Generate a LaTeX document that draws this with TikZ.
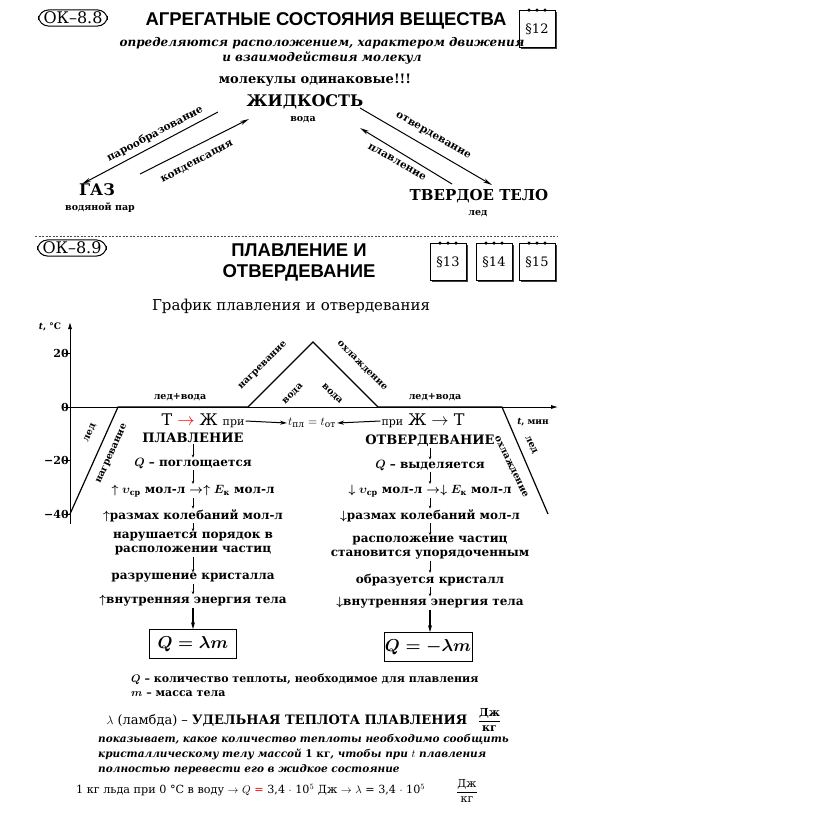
\documentclass[tikz,border=0pt]{standalone}
\usepackage{amsmath}
\usepackage{fontspec}
\setmainfont{DejaVu Serif}
\setsansfont{Liberation Sans}
\usetikzlibrary{arrows.meta,positioning,shadows}

\begin{document}
\begin{tikzpicture}[x=1pt, y=-1pt, every node/.style={inner sep=1pt},
    okbox/.style={draw, line width=1pt, rounded corners=10pt, inner xsep=5pt,
                  inner ysep=2pt, font=\fontsize{16}{18}\selectfont},
    pgbox/.style={draw, line width=0.8pt, fill=white, minimum width=36pt,
                  minimum height=37pt, font=\fontsize{13}{15}\selectfont,
                  drop shadow={shadow xshift=1.5pt, shadow yshift=-1.5pt,
                  fill=black!75, opacity=1}},
    ttl/.style={font=\sffamily\bfseries\fontsize{18.5}{21}\selectfont, align=center},
    state/.style={font=\bfseries\fontsize{16}{18}\selectfont},
    lbl/.style={font=\bfseries\fontsize{9.5}{11}\selectfont},
    tlbl/.style={font=\bfseries\fontsize{10.5}{12}\selectfont},
    col/.style={font=\bfseries\boldmath\fontsize{12}{14}\selectfont, align=center},
    tarr/.style={line width=1pt, -{Stealth[length=9pt,width=4pt]}},
    sarr/.style={line width=0.4pt, -{Stealth[length=3pt,width=2.5pt]}},
    barr/.style={line width=1.1pt, -{Stealth[length=7pt,width=4pt]}},
    harr/.style={line width=1pt, -{Stealth[length=7pt,width=4pt]}},
    fbox/.style={draw, line width=0.8pt, minimum width=87pt, minimum height=29pt,
                 font=\bfseries\boldmath\fontsize{16}{18}\selectfont},
    axis/.style={line width=0.8pt, -{Latex[length=7pt,width=4pt]}},
    curve/.style={line width=1.2pt, line join=miter}]
  \useasboundingbox (0,0) rectangle (816,817);

  % ---- OK-8.8: states of matter
  \node[okbox] (ok1) at (73,18) {ОК–8.8};
  \node[ttl] (t1) at (326,21) {АГРЕГАТНЫЕ СОСТОЯНИЯ ВЕЩЕСТВА};
  \node[pgbox] (p12) at (537,29) {§12};
  \node[font=\bfseries\itshape\fontsize{12}{15}\selectfont, align=center] (sub) at (322,51)
    {определяются расположением, характером движения\\и взаимодействия молекул};
  \node[font=\bfseries\fontsize{13}{15}\selectfont] (same) at (315,80) {молекулы одинаковые!!!};
  \node[state] (liq) at (305,102) {ЖИДКОСТЬ};
  \node[lbl] (liqw) at (303,120) {вода};
  \node[state] (gas) at (97,190) {ГАЗ};
  \node[lbl] (gasw) at (100,208) {водяной пар};
  \node[state, font=\bfseries\fontsize{15}{17}\selectfont] (sol) at (479,196) {ТВЕРДОЕ ТЕЛО};
  \node[lbl] (solw) at (478,214) {лед};

  \coordinate (e1) at (218,112); \coordinate (e2) at (82,184);
  \coordinate (c1) at (140,174); \coordinate (c2) at (249,119);
  \coordinate (s1) at (360,108); \coordinate (s2) at (492,185);
  \coordinate (m1) at (452,184); \coordinate (m2) at (360,128);
  \draw[tarr] (e1) -- (e2);
  \draw[tarr] (c1) -- (c2);
  \draw[tarr] (s1) -- (s2);
  \draw[tarr] (m1) -- (m2);
  \node[tlbl, rotate=28] (evap) at (155,134) {парообразование};
  \node[tlbl, rotate=28] (cond) at (197,162) {конденсация};
  \node[tlbl, rotate=-30] (solid) at (433,136) {отвердевание};
  \node[tlbl, rotate=-30] (melt) at (397,162) {плавление};

  \draw[dash pattern=on 2pt off 1.5pt, black!70] (35,236) -- (557,236);

  % ---- OK-8.9: melting and solidification
  \node[okbox] (ok2) at (72,248) {ОК–8.9};
  \node[ttl] (t2) at (299,262) {ПЛАВЛЕНИЕ И\\ОТВЕРДЕВАНИЕ};
  \node[pgbox] (p13) at (448,262) {§13};
  \node[pgbox] (p14) at (494,262) {§14};
  \node[pgbox] (p15) at (537,262) {§15};
  \foreach \p in {p12,p13,p14,p15}
    \foreach \dx in {-8,0,8}
      \fill (\p.north) ++(\dx,0) circle (1.8);
  \node[font=\fontsize{15}{17}\selectfont] (gt) at (291,306) {График плавления и отвердевания};

  % graph
  \coordinate (O) at (70,407);
  \draw[axis] (70,524) -- (70,322);
  \draw[axis] (O) -- (558,407);
  \foreach \v/\yy in {20/353.5, 0/407, −20/460.5, −40/514}
    \draw[line width=0.6pt] (64,\yy) -- (70,\yy)
      node[left, font=\bfseries\fontsize{11}{13}\selectfont] {\v};
  \node[font=\bfseries\fontsize{9}{11}\selectfont] (ylab) at (50,327) {\textit{t}, °C};
  \node[font=\bfseries\fontsize{9}{11}\selectfont] (xlab) at (533,422) {\textit{t}, мин};
  \draw[curve] (70,514) -- (118,407) -- (248,407) -- (313,342) -- (378,407)
    -- (502,407) -- (548,514);
  \node[lbl, rotate=65.6] (gice1) at (90,433) {лед};
  \node[lbl, rotate=65.6] (gheat1) at (112,454) {нагревание};
  \node[lbl] (mix1) at (180,397) {лед+вода};
  \node[lbl, rotate=45] (gheat2) at (263,366) {нагревание};
  \node[lbl, rotate=45] (gw1) at (293,394) {вода};
  \node[lbl, rotate=-45] (gcool1) at (362,366) {охлаждение};
  \node[lbl, rotate=-45] (gw2) at (332,394) {вода};
  \node[lbl] (mix2) at (435,397) {лед+вода};
  \node[lbl, rotate=-64] (gcool2) at (511,467) {охлаждение};
  \node[lbl, rotate=-64] (gice2) at (531,445) {лед};

  % melting / solidification chains
  \node[font=\fontsize{16}{18}\selectfont] (tzh) at (203,421)
    {Т \textcolor{red}{$\rightarrow$} Ж {\fontsize{11}{13}\selectfont при}};
  \node[font=\fontsize{13}{15}\selectfont] (teq) at (312,423) {$t_{\text{пл}} = t_{\text{от}}$};
  \node[font=\fontsize{16}{18}\selectfont] (zht) at (423,421)
    {{\fontsize{11}{13}\selectfont при} Ж $\rightarrow$ Т};
  \draw[harr] (tzh.east) -- (teq.west);
  \draw[harr] (zht.west) -- (teq.east);

  \node[col, font=\bfseries\fontsize{13}{15}\selectfont] (pl) at (193,438) {ПЛАВЛЕНИЕ};
  \node[col] (lq) at (193,464) {$Q$ – поглощается};
  \node[col] (lv) at (193,491) {$\uparrow\upsilon_{\text{ср}}$ мол-л $\to\uparrow E_{\text{к}}$ мол-л};
  \node[col] (lr) at (193,516) {$\uparrow$размах колебаний мол-л};
  \node[col] (ln) at (193,544) {нарушается порядок в\\расположении частиц};
  \node[col] (lk) at (193,578) {разрушение кристалла};
  \node[col] (le) at (193,601) {$\uparrow$внутренняя энергия тела};
  \node[fbox] (lbox) at (193,644) {$Q = \lambda m$};
  \foreach \a/\b in {pl/lq, lq/lv, lv/lr, lr/ln, ln/lk, lk/le}
    \draw[sarr] (\a.south) -- (\b.north);
  \draw[barr] (le.south) -- (lbox.north);

  \node[col, font=\bfseries\fontsize{13}{15}\selectfont] (ot) at (430,441) {ОТВЕРДЕВАНИЕ};
  \node[col] (rq) at (430,466) {$Q$ – выделяется};
  \node[col] (rv) at (430,491) {$\downarrow\upsilon_{\text{ср}}$ мол-л $\to\downarrow E_{\text{к}}$ мол-л};
  \node[col] (rr) at (430,516) {$\downarrow$размах колебаний мол-л};
  \node[col] (rn) at (430,548) {расположение частиц\\становится упорядоченным};
  \node[col] (rk) at (430,580) {образуется кристалл};
  \node[col] (re) at (430,603) {$\downarrow$внутренняя энергия тела};
  \node[fbox] (rbox) at (428,647) {$Q = -\lambda m$};
  \foreach \a/\b in {ot/rq, rq/rv, rv/rr, rr/rn, rn/rk, rk/re}
    \draw[sarr] (\a.south) -- (\b.north);
  \draw[barr] (re.south) -- (re.south |- rbox.north);

  % definitions
  \node[font=\bfseries\boldmath\fontsize{11}{14}\selectfont, align=left, anchor=west] (defs) at (130,685)
    {$Q$ – количество теплоты, необходимое для плавления\\$m$ – масса тела};
  \node[font=\fontsize{13}{15}\selectfont] (lam) at (287,720)
    {$\lambda$ (ламбда) – \textbf{УДЕЛЬНАЯ ТЕПЛОТА ПЛАВЛЕНИЯ}};
  \node[font=\bfseries\fontsize{11}{13}\selectfont, right=8pt of lam] (fr1)
    {$\dfrac{\text{Дж}}{\text{кг}}$};
  \node[font=\bfseries\itshape\fontsize{10.5}{15}\selectfont, align=left, anchor=west] (expl) at (97,754)
    {показывает, какое количество теплоты необходимо сообщить\\
     кристаллическому телу массой {\upshape 1 кг}, чтобы при $t$ плавления\\
     полностью перевести его в жидкое состояние};
  \node[font=\fontsize{11.2}{13}\selectfont, anchor=west] (ex) at (75,790)
    {1 кг льда при 0 °C в воду $\to$ $Q$ \textcolor{red}{=} 3,4 $\cdot$ 10$^5$ Дж
     $\to$ $\lambda$ = 3,4 $\cdot$ 10$^5$};
  \node[font=\fontsize{11}{13}\selectfont] (fr2) at (467,791) {$\dfrac{\text{Дж}}{\text{кг}}$};
\end{tikzpicture}
\end{document}
